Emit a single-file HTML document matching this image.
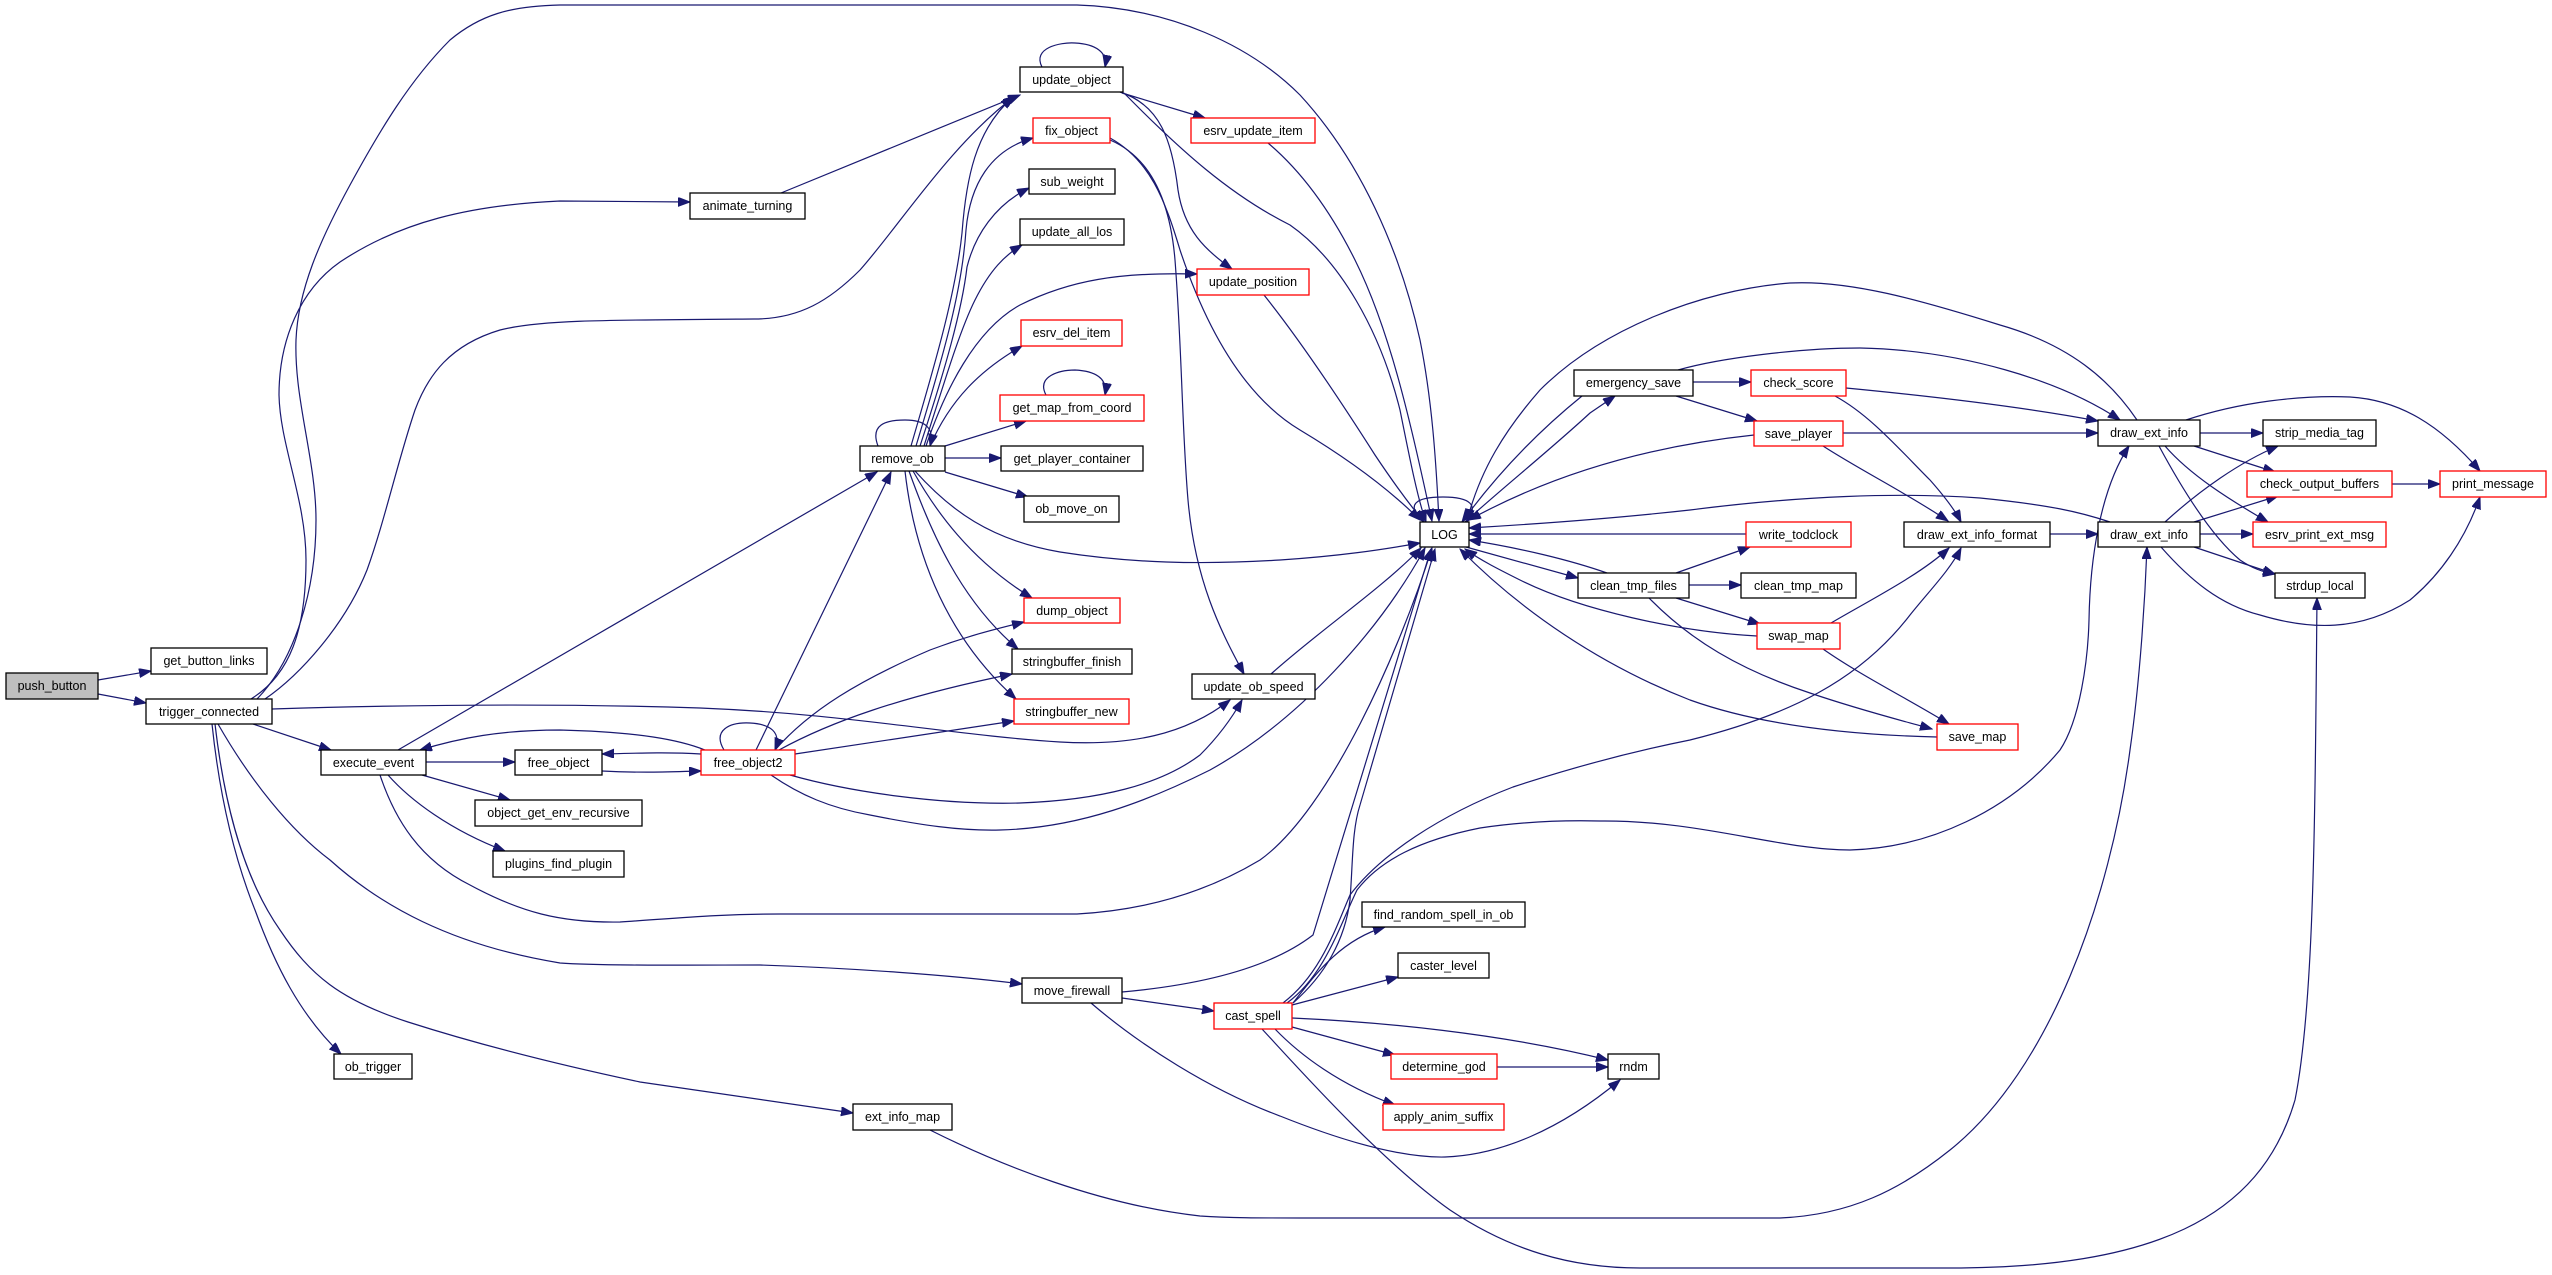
<!DOCTYPE html>
<html><head><meta charset="utf-8"><style>
html,body{margin:0;padding:0;background:#fff;}
svg{display:block;}
text{font-family:"Liberation Sans",Arial,sans-serif;font-size:12.5px;fill:#000;text-anchor:middle;}
.n{fill:#fff;stroke:#000;stroke-width:1.3;}
.r{fill:#fff;stroke:#ff0000;stroke-width:1.3;}
.g{fill:#bfbfbf;stroke:#000;stroke-width:1.3;}
.e path{fill:none;stroke:#191970;stroke-width:1.2;marker-end:url(#a);}
</style></head><body>
<svg width="2552" height="1275" viewBox="0 0 2552 1275" xmlns="http://www.w3.org/2000/svg">
<defs><marker id="a" markerWidth="13" markerHeight="10" refX="12" refY="4.5" orient="auto" markerUnits="userSpaceOnUse"><path d="M0,0 L12,4.5 L0,9 z" fill="#191970" stroke="#191970" stroke-width="1"/></marker></defs>
<g class="e">
<path d="M98,680 L151,671"/>
<path d="M98,694 L146,703"/>
<path d="M251,699 C290,675 306,630 306,560 C306,500 280,445 279,395 C279,340 300,290 340,262 C400,222 470,205 560,201 L690,202"/>
<path d="M257,699 C295,660 316,590 316,520 C316,460 294,400 296,340 C298,290 320,240 350,185 C380,130 410,80 450,40 C480,15 510,6 560,5 L1077,5 C1170,8 1250,45 1300,95 C1360,160 1400,250 1420,340 C1432,400 1436,460 1439,521"/>
<path d="M265,699 C300,675 345,625 367,570 C385,520 398,460 415,410 C428,375 450,345 500,330 C540,320 600,320 754,319 C800,319 830,300 860,270 C900,225 950,145 1015,96"/>
<path d="M253,724 L331,750"/>
<path d="M272,709 C400,705 550,703 700,708 C850,714 950,735 1060,742 C1130,746 1185,735 1230,700"/>
<path d="M218,724 C250,780 290,830 330,860 C380,905 450,945 560,963 C600,966 700,965 760,965 C850,968 950,975 1022,984"/>
<path d="M212,724 C220,800 235,860 255,910 C275,965 300,1015 341,1054"/>
<path d="M215,724 C225,810 245,880 280,930 C310,975 340,1000 408,1022 C480,1045 560,1065 640,1082 L853,1113"/>
<path d="M398,750 L877,472"/>
<path d="M426,762 L515,762"/>
<path d="M422,775 L510,800"/>
<path d="M388,775 C410,800 450,830 505,851"/>
<path d="M380,775 C395,820 420,860 470,885 C520,912 560,923 620,922 C680,918 720,914 780,914 L1077,914 C1150,910 1210,890 1260,860 C1330,810 1400,650 1432,548"/>
<path d="M602,771 C640,773 670,772 701,771"/>
<path d="M701,754 C670,752 640,753 602,754"/>
<path d="M705,750 C680,740 640,732 560,730 C500,730 460,738 420,750"/>
<path d="M724,750 C712,730 730,722 750,723 C770,724 782,732 775,750"/>
<path d="M756,750 L891,472"/>
<path d="M775,750 C810,710 860,680 930,650 C970,635 1000,628 1024,622"/>
<path d="M779,750 C830,722 900,697 1012,674"/>
<path d="M795,754 L1014,721"/>
<path d="M790,775 C850,792 940,805 1020,803 C1100,800 1160,785 1200,755 C1220,735 1232,718 1242,700"/>
<path d="M771,775 C800,795 830,808 870,815 C920,825 960,831 1000,830 C1080,828 1150,800 1210,770 C1300,720 1380,630 1425,548"/>
<path d="M878,446 C870,425 885,420 905,420 C925,420 935,428 930,446"/>
<path d="M945,458 L1001,458"/>
<path d="M945,472 L1028,497"/>
<path d="M945,446 L1026,421"/>
<path d="M913,471 C935,510 970,560 1032,598"/>
<path d="M909,471 C930,530 960,600 1018,649"/>
<path d="M905,471 C915,560 950,640 1016,699"/>
<path d="M915,471 C950,510 990,540 1060,552 C1130,563 1200,565 1280,560 C1340,556 1380,550 1420,543"/>
<path d="M911,446 C930,380 955,300 962,233 C966,180 975,130 1013,97"/>
<path d="M916,446 C945,350 962,290 966,230 C970,185 990,150 1033,138"/>
<path d="M920,446 C945,370 962,310 967,267 C975,235 995,205 1029,188"/>
<path d="M924,446 C945,380 960,330 975,300 C990,270 1005,255 1022,245"/>
<path d="M926,446 C945,390 975,330 1020,305 C1070,280 1120,272 1197,274"/>
<path d="M930,446 C950,400 980,370 1022,346"/>
<path d="M1042,67 C1032,48 1060,42 1075,43 C1095,44 1108,52 1105,67"/>
<path d="M1122,93 L1205,118"/>
<path d="M1120,92 C1160,105 1172,140 1178,190 C1184,230 1205,250 1232,269"/>
<path d="M1124,93 C1180,150 1230,195 1290,225 C1340,260 1380,330 1400,410 C1410,460 1418,500 1426,522"/>
<path d="M1268,143 C1300,170 1330,210 1355,260 C1390,330 1410,420 1432,521"/>
<path d="M1264,295 C1300,340 1340,400 1375,455 C1395,485 1410,505 1424,522"/>
<path d="M1110,138 C1150,160 1165,200 1180,250 C1210,340 1250,400 1300,430 C1350,460 1390,490 1420,520"/>
<path d="M1110,140 C1150,157 1170,200 1175,260 C1182,350 1182,430 1188,500 C1195,580 1220,630 1244,674"/>
<path d="M781,193 L1020,95"/>
<path d="M1424,522 C1405,505 1415,497 1443,497 C1470,497 1480,505 1466,522"/>
<path d="M1465,522 C1500,490 1550,450 1590,413 L1615,396"/>
<path d="M1582,396 C1540,430 1500,470 1462,522"/>
<path d="M2137,420 C2110,380 2070,345 2000,325 C1920,300 1850,280 1790,283 C1700,290 1600,330 1540,390 C1505,430 1480,470 1467,521"/>
<path d="M1754,435 C1660,445 1560,470 1469,520"/>
<path d="M1746,534 L1469,534"/>
<path d="M1607,573 C1570,560 1520,548 1469,540"/>
<path d="M1466,547 L1578,578"/>
<path d="M1757,636 C1680,632 1580,610 1520,580 C1500,570 1480,560 1465,549"/>
<path d="M1937,737 C1850,735 1760,725 1690,700 C1600,665 1520,610 1460,549"/>
<path d="M1676,573 L1750,547"/>
<path d="M1689,585 L1741,585"/>
<path d="M1676,598 L1760,624"/>
<path d="M1649,598 C1690,640 1740,670 1810,693 C1860,710 1900,720 1932,729"/>
<path d="M1823,649 C1860,675 1910,700 1949,724"/>
<path d="M1831,623 C1870,600 1920,575 1949,548"/>
<path d="M1693,382 L1751,382"/>
<path d="M1676,396 L1757,421"/>
<path d="M1678,370 C1720,358 1800,348 1860,348 C1960,350 2060,380 2120,420"/>
<path d="M1846,388 C1950,398 2040,410 2098,421"/>
<path d="M1835,396 C1870,415 1900,450 1930,480 C1945,497 1955,510 1961,522"/>
<path d="M1843,433 L2098,433"/>
<path d="M1823,446 C1860,470 1910,495 1948,521"/>
<path d="M2050,534 L2098,534"/>
<path d="M2110,522 C2080,512 2050,505 1980,498 C1900,492 1800,496 1690,510 C1600,520 1520,525 1469,528"/>
<path d="M2200,433 L2263,433"/>
<path d="M2194,446 L2275,472"/>
<path d="M2165,446 C2190,475 2230,500 2268,522"/>
<path d="M2159,446 C2180,485 2210,535 2240,560 C2252,568 2262,572 2275,574"/>
<path d="M2186,420 C2240,402 2300,395 2350,397 C2400,400 2440,425 2480,471"/>
<path d="M2392,484 L2440,484"/>
<path d="M2165,522 C2200,490 2240,462 2278,446"/>
<path d="M2194,522 L2278,496"/>
<path d="M2200,534 L2253,534"/>
<path d="M2194,547 L2275,574"/>
<path d="M2161,547 C2190,580 2220,605 2260,615 C2310,630 2360,632 2410,600 C2440,575 2465,540 2480,497"/>
<path d="M1262,1029 C1300,1070 1380,1160 1450,1210 C1510,1250 1570,1268 1640,1268 L1950,1268 C2150,1268 2260,1220 2295,1100 C2315,1000 2315,800 2317,598"/>
<path d="M930,1130 C1000,1165 1100,1205 1200,1216 C1230,1218 1260,1218 1300,1218 L1780,1218 C1850,1215 1900,1190 1950,1150 C2050,1070 2110,900 2130,750 C2140,680 2145,600 2147,547"/>
<path d="M1287,1003 C1325,975 1340,925 1357,890 C1380,860 1420,840 1480,828 C1520,822 1560,820 1600,821 C1700,820 1780,850 1850,850 C1930,848 2010,810 2060,750 C2080,720 2088,660 2089,620 C2090,560 2100,490 2129,446"/>
<path d="M1283,1003 C1320,975 1335,930 1350,895 C1380,855 1440,815 1513,787 C1580,765 1640,750 1690,740 C1790,715 1860,680 1910,615 C1930,590 1950,570 1961,548"/>
<path d="M1293,1003 C1325,975 1345,940 1350,900 C1353,860 1352,830 1360,805 L1435,549"/>
<path d="M1122,992 C1200,985 1270,968 1313,935 L1431,549"/>
<path d="M1122,998 L1214,1011"/>
<path d="M1091,1003 C1140,1045 1210,1090 1280,1116 C1340,1140 1400,1158 1445,1157 C1500,1155 1560,1130 1620,1080"/>
<path d="M1293,1003 C1315,975 1340,940 1385,927"/>
<path d="M1292,1005 L1398,977"/>
<path d="M1292,1018 C1380,1022 1500,1033 1608,1060"/>
<path d="M1292,1027 L1395,1055"/>
<path d="M1275,1029 C1300,1055 1340,1085 1395,1105"/>
<path d="M1497,1067 L1608,1067"/>
<path d="M1271,674 C1320,630 1380,590 1421,548"/>
<path d="M1046,395 C1036,376 1060,370 1075,370 C1095,371 1108,378 1105,395"/>
</g>
<g>
<rect class="g" x="6" y="673" width="92" height="26"/><text x="52" y="690">push_button</text>
<rect class="n" x="151" y="648" width="116" height="26"/><text x="209" y="665">get_button_links</text>
<rect class="n" x="146" y="699" width="126" height="25"/><text x="209" y="716">trigger_connected</text>
<rect class="n" x="690" y="193" width="115" height="26"/><text x="747.5" y="210">animate_turning</text>
<rect class="n" x="1020" y="67" width="103" height="25"/><text x="1071.5" y="84">update_object</text>
<rect class="r" x="1033" y="118" width="77" height="25"/><text x="1071.5" y="135">fix_object</text>
<rect class="n" x="1029" y="169" width="86" height="25"/><text x="1072" y="186">sub_weight</text>
<rect class="n" x="1020" y="219" width="104" height="26"/><text x="1072" y="236">update_all_los</text>
<rect class="r" x="1191" y="118" width="124" height="25"/><text x="1253" y="135">esrv_update_item</text>
<rect class="r" x="1197" y="269" width="112" height="26"/><text x="1253" y="286">update_position</text>
<rect class="r" x="1021" y="320" width="101" height="26"/><text x="1071.5" y="337">esrv_del_item</text>
<rect class="r" x="1000" y="395" width="144" height="26"/><text x="1072" y="412">get_map_from_coord</text>
<rect class="n" x="860" y="446" width="85" height="25"/><text x="902.5" y="463">remove_ob</text>
<rect class="n" x="1001" y="446" width="142" height="25"/><text x="1072" y="463">get_player_container</text>
<rect class="n" x="1024" y="496" width="95" height="26"/><text x="1071.5" y="513">ob_move_on</text>
<rect class="r" x="1024" y="598" width="96" height="25"/><text x="1072" y="615">dump_object</text>
<rect class="n" x="1012" y="649" width="120" height="25"/><text x="1072" y="666">stringbuffer_finish</text>
<rect class="r" x="1014" y="699" width="115" height="25"/><text x="1071.5" y="716">stringbuffer_new</text>
<rect class="n" x="1192" y="674" width="123" height="25"/><text x="1253.5" y="691">update_ob_speed</text>
<rect class="r" x="701" y="750" width="94" height="25"/><text x="748" y="767">free_object2</text>
<rect class="n" x="515" y="750" width="87" height="25"/><text x="558.5" y="767">free_object</text>
<rect class="n" x="321" y="750" width="105" height="25"/><text x="373.5" y="767">execute_event</text>
<rect class="n" x="475" y="800" width="167" height="26"/><text x="558.5" y="817">object_get_env_recursive</text>
<rect class="n" x="493" y="851" width="131" height="26"/><text x="558.5" y="868">plugins_find_plugin</text>
<rect class="n" x="334" y="1054" width="78" height="25"/><text x="373" y="1071">ob_trigger</text>
<rect class="n" x="853" y="1104" width="99" height="26"/><text x="902.5" y="1121">ext_info_map</text>
<rect class="n" x="1022" y="978" width="100" height="25"/><text x="1072" y="995">move_firewall</text>
<rect class="r" x="1214" y="1003" width="78" height="26"/><text x="1253" y="1020">cast_spell</text>
<rect class="n" x="1362" y="902" width="163" height="25"/><text x="1443.5" y="919">find_random_spell_in_ob</text>
<rect class="n" x="1398" y="953" width="91" height="25"/><text x="1443.5" y="970">caster_level</text>
<rect class="r" x="1391" y="1054" width="106" height="25"/><text x="1444" y="1071">determine_god</text>
<rect class="r" x="1383" y="1104" width="121" height="26"/><text x="1443.5" y="1121">apply_anim_suffix</text>
<rect class="n" x="1608" y="1054" width="51" height="25"/><text x="1633.5" y="1071">rndm</text>
<rect class="n" x="1420" y="522" width="49" height="25"/><text x="1444.5" y="539">LOG</text>
<rect class="n" x="1574" y="370" width="119" height="26"/><text x="1633.5" y="387">emergency_save</text>
<rect class="r" x="1751" y="370" width="95" height="26"/><text x="1798.5" y="387">check_score</text>
<rect class="r" x="1754" y="421" width="89" height="25"/><text x="1798.5" y="438">save_player</text>
<rect class="r" x="1746" y="522" width="105" height="25"/><text x="1798.5" y="539">write_todclock</text>
<rect class="n" x="1578" y="573" width="111" height="25"/><text x="1633.5" y="590">clean_tmp_files</text>
<rect class="n" x="1741" y="573" width="115" height="25"/><text x="1798.5" y="590">clean_tmp_map</text>
<rect class="r" x="1757" y="623" width="83" height="26"/><text x="1798.5" y="640">swap_map</text>
<rect class="r" x="1937" y="724" width="81" height="26"/><text x="1977.5" y="741">save_map</text>
<rect class="n" x="1904" y="522" width="146" height="25"/><text x="1977" y="539">draw_ext_info_format</text>
<rect class="n" x="2098" y="420" width="102" height="26"/><text x="2149" y="437">draw_ext_info</text>
<rect class="n" x="2098" y="522" width="102" height="25"/><text x="2149" y="539">draw_ext_info</text>
<rect class="n" x="2263" y="420" width="113" height="26"/><text x="2319.5" y="437">strip_media_tag</text>
<rect class="r" x="2247" y="471" width="145" height="26"/><text x="2319.5" y="488">check_output_buffers</text>
<rect class="r" x="2253" y="522" width="133" height="25"/><text x="2319.5" y="539">esrv_print_ext_msg</text>
<rect class="n" x="2275" y="573" width="90" height="25"/><text x="2320" y="590">strdup_local</text>
<rect class="r" x="2440" y="471" width="106" height="26"/><text x="2493" y="488">print_message</text>
</g>
</svg>
</body></html>
